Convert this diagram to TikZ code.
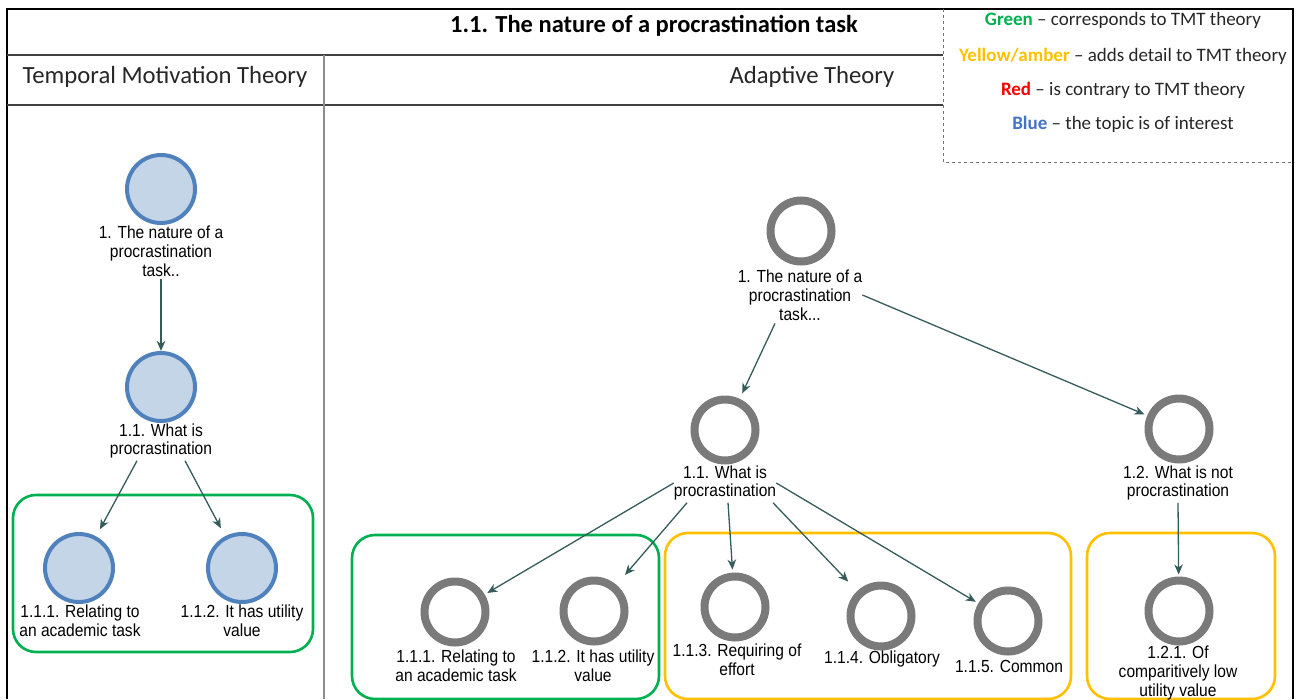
\documentclass[tikz,border=0pt]{standalone}
\usepackage{fontspec}
\setmainfont{Carlito}
\newfontfamily\lblfont[FakeStretch=0.89]{Liberation Sans}
\usetikzlibrary{arrows.meta}

\definecolor{tmtgreen}{HTML}{00B050}
\definecolor{amber}{HTML}{FFC000}
\definecolor{keyred}{HTML}{FF0000}
\definecolor{keyblue}{HTML}{4472C4}
\definecolor{ringgray}{HTML}{7A7A7A}
\definecolor{bluefill}{HTML}{C5D5E8}
\definecolor{blueedge}{HTML}{4F81BD}
\definecolor{linkcol}{HTML}{355B5B}
\definecolor{rulegray}{HTML}{8C8C8C}

\begin{document}
\begin{tikzpicture}[x=1pt,y=-1pt,
  ring/.style={circle, draw=ringgray, line width=8pt, fill=white,
               minimum size=61pt, inner sep=0pt},
  bluenode/.style={circle, draw=blueedge, line width=4pt, fill=bluefill,
                   minimum size=68pt, inner sep=0pt},
  lbl/.style={align=center, inner sep=0pt,
              font=\lblfont\fontsize{17.5}{18.8}\selectfont},
  link/.style={draw=linkcol, line width=1.3pt,
               -{Stealth[length=10pt,width=8.5pt,inset=3pt]}},
  groupbox/.style={rounded corners=23pt, line width=2.6pt},
  head/.style={font=\fontsize{24.7}{29}\selectfont, text=black!85},
  keyline/.style={font=\fontsize{19}{22}\selectfont, text=black!85},
]
\useasboundingbox (0,0) rectangle (1296,699);

% ---- table frame ----
\draw[line width=2.4pt] (7,699) -- (7,9) -- (1293,9) -- (1293,699);
\draw[line width=1.4pt, black!75] (7,55) -- (943,55);
\draw[line width=1.4pt, black!75] (7,105) -- (943,105);
\draw[line width=2pt, rulegray] (324,55) -- (324,699);

% ---- key ----
\draw[dashed, line width=0.9pt, black!55] (943,9) -- (943,162) -- (1293,162);
\node[keyline] (kgreen) at (1123,20)
  {\textcolor{tmtgreen}{\bfseries Green} – corresponds to TMT theory};
\node[keyline] (kamber) at (1123,56)
  {\textcolor{amber}{\bfseries Yellow/amber} – adds detail to TMT theory};
\node[keyline] (kred) at (1123,90)
  {\textcolor{keyred}{\bfseries Red} – is contrary to TMT theory};
\node[keyline] (kblue) at (1123,124)
  {\textcolor{keyblue}{\bfseries Blue} – the topic is of interest};

% ---- headings ----
\node[font=\bfseries\fontsize{24.5}{28}\selectfont] (title) at (654,26)
  {1.1. The nature of a procrastination task};
\node[head] (htmt) at (165,77) {Temporal Motivation Theory};
\node[head] (hadapt) at (812,77) {Adaptive Theory};

% ---- Temporal Motivation Theory map ----
\draw[groupbox, tmtgreen] (13,495) rectangle (313,652);

\node[bluenode] (t1) at (161,189) {};
\node[lbl] (t1l) at (161,251) {1. The nature of a\\procrastination\\task..};
\node[bluenode] (t11) at (161,387) {};
\node[lbl] (t11l) at (161,441) {1.1. What is\\procrastination};
\node[bluenode] (t111) at (79,568) {};
\node[lbl] (t111l) at (80,621) {1.1.1. Relating to\\an academic task};
\node[bluenode] (t112) at (242,568) {};
\node[lbl] (t112l) at (242,621) {1.1.2. It has utility\\value};

\draw[link] ([yshift=-3pt]t1l.south) -- (t11);
\draw[link, shorten >=8pt] ([xshift=-24pt,yshift=-2pt]t11l.south) -- (t111);
\draw[link, shorten >=9pt] ([xshift=24pt,yshift=-2pt]t11l.south) -- (t112);

% ---- Adaptive Theory map ----
\draw[groupbox, tmtgreen] (352,535) rectangle (659,699);
\draw[groupbox, amber] (665,533) rectangle (1071,699);
\draw[groupbox, amber] (1087,533) rectangle (1275,699);

\node[ring] (a1) at (801,231) {};
\node[lbl] (a1l) at (800,295) {1. The nature of a\\procrastination\\task...};
\node[ring] (a11) at (725,430) {};
\node[lbl] (a11l) at (725,483) {1.1. What is\\procrastination};
\node[ring] (a12) at (1179,429) {};
\node[lbl] (a12l) at (1178,483) {1.2. What is not\\procrastination};

\node[ring] (a111) at (455,612) {};
\node[lbl] (a111l) at (456,666) {1.1.1. Relating to\\an academic task};
\node[ring] (a112) at (594,611) {};
\node[lbl] (a112l) at (593,666) {1.1.2. It has utility\\value};
\node[ring] (a113) at (735,607) {};
\node[lbl] (a113l) at (737,659.5) {1.1.3. Requiring of\\effort};
\node[ring] (a114) at (881,616) {};
\node[lbl] (a114l) at (882,659) {1.1.4. Obligatory};
\node[ring] (a115) at (1008,621) {};
\node[lbl] (a115l) at (1009,666) {1.1.5. Common};
\node[ring] (a121) at (1179,611) {};
\node[lbl] (a121l) at (1178,673) {1.2.1. Of\\comparitively low\\utility value};

\draw[link, shorten >=6pt] ([xshift=-25pt,yshift=-3pt]a1l.south) -- (a11);
\draw[link, shorten >=3pt] (a1l.east) -- (a12);
\draw[link, shorten >=3pt] (a11l.west) -- (a111);
\draw[link, shorten >=13pt] ([xshift=-38pt,yshift=-2pt]a11l.south) -- (a112);
\draw[link, shorten >=3pt] ([xshift=3pt,yshift=-2pt]a11l.south) -- (a113);
\draw[link, shorten >=13pt] ([xshift=48pt,yshift=-2pt]a11l.south) -- (a114);
\draw[link, shorten >=3pt] (a11l.east) -- (a115);
\draw[link, shorten >=2pt] ([yshift=-2pt]a12l.south) -- (a121);
\end{tikzpicture}
\end{document}
